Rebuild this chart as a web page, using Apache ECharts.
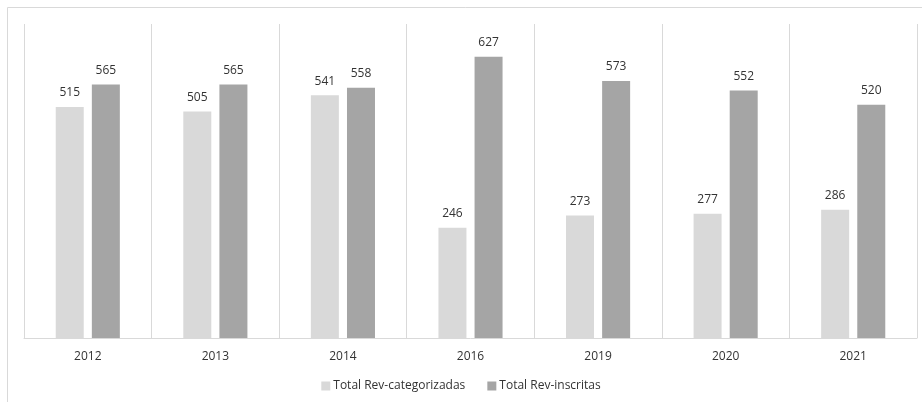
<!DOCTYPE html>
<html><head><meta charset="utf-8">
<script src="https://cdn.jsdelivr.net/npm/echarts@6/dist/echarts.min.js"></script>
<style>html,body{margin:0;padding:0;background:#fff}#c{width:922px;height:402px}</style>
</head><body><div id="c"></div>
<script>
const categories = ['2012','2013','2014','2016','2019','2020','2021'];
const categorizadas = [515,505,541,246,273,277,286];
const inscritas = [565,565,558,627,573,552,520];
const seriesNames = ['Total Rev-categorizadas','Total Rev-inscritas'];
const chart = echarts.init(document.getElementById('c'));
const font = '"Open Sans", "Liberation Sans", sans-serif';
chart.setOption({
  animation:false,
  textStyle:{fontFamily:font},
  graphic:[{type:'rect',shape:{x:7.5,y:7.5,width:930,height:420},style:{fill:'none',stroke:'#d9d9d9',lineWidth:1},silent:true,z:-1}],
  legend:{bottom:5,left:'center',itemWidth:9,itemHeight:9,itemGap:22,icon:'rect',
    textStyle:{color:'#333',fontSize:12,fontFamily:font,padding:[0,0,0,-2]},data:seriesNames},
  grid:{left:24,right:5,top:24,bottom:64,containLabel:false},
  xAxis:{type:'category',data:categories,
    axisLine:{lineStyle:{color:'#d9d9d9'}},axisTick:{show:false},
    splitLine:{show:true,lineStyle:{color:'#d9d9d9'}},
    axisLabel:{color:'#333',fontSize:12,margin:13,fontFamily:font}},
  yAxis:{type:'value',min:0,max:700,show:false,splitLine:{show:false}},
  series:[
    {name:seriesNames[0],type:'bar',data:categorizadas,barWidth:28,barGap:'29%',
     itemStyle:{color:'#d9d9d9'},
     label:{show:true,position:'top',distance:8,color:'#333',fontSize:12,fontFamily:font}},
    {name:seriesNames[1],type:'bar',data:inscritas,barWidth:28,
     itemStyle:{color:'#a5a5a5'},
     label:{show:true,position:'top',distance:8,color:'#333',fontSize:12,fontFamily:font}}
  ]
});
</script></body></html>
